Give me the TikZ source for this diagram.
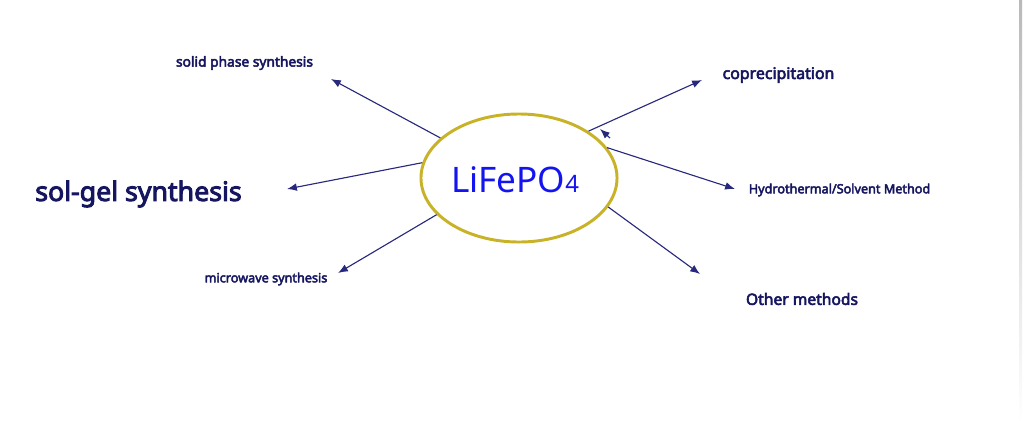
\documentclass[tikz,border=0pt]{standalone}
\usepackage{fontspec}
\setmainfont{Noto Sans}[AutoFakeBold=3.5]
\usetikzlibrary{arrows.meta,shapes.geometric}

\definecolor{navytext}{RGB}{22,22,96}
\definecolor{navyline}{RGB}{40,40,125}
\definecolor{goldring}{RGB}{200,178,40}
\definecolor{formblue}{RGB}{20,20,240}

\tikzset{
  method/.style={text=navytext, inner sep=0pt, font=\bfseries\fontsize{#1}{12}\selectfont},
  arr/.style={-{Latex[length=7pt,width=5.5pt]}, navyline, line width=0.8pt},
  center/.style={ellipse, draw=goldring, line width=2.1pt, minimum width=4.9cm, minimum height=3.2cm, inner sep=0pt}
}

\begin{document}
\begin{tikzpicture}[x=0.025cm,y=-0.025cm]

            % Canvas
            \useasboundingbox (0,0) rectangle (1024,423);
            \shade[top color=gray!55, bottom color=white] (1019,0) rectangle (1022,423);

            % Central ellipse
            \node[center] (ell) at (519,178) {};
            \node[font=\fontsize{25}{30}\selectfont, text=formblue, inner sep=0pt] (lfp) at (515,180)
                {LiFePO{\fontsize{17}{20}\selectfont 4}};

            % Method labels
            \node[method=9.8] (solid) at (244.5,63) {solid phase synthesis};
            \node[method=19] (solgel) at (138.5,194) {sol-gel synthesis};
            \node[method=9] (micro) at (266,279) {microwave synthesis};
            \node[method=11.3] (copre) at (778.5,75) {coprecipitation};
            \node[method=9] (hydro) at (839.5,190) {Hydrothermal/Solvent Method};
            \node[method=11.1] (other) at (802,299) {Other methods};

            % Arrow ends
            \coordinate (solidtip) at (331,79);
            \coordinate (solgeltip) at (287,189);
            \coordinate (microtip) at (338,273);
            \coordinate (copretip) at (702,80);
            \coordinate (hydrotip) at (735,189);
            \coordinate (othertip) at (700,274);
            \coordinate (loosebase) at (610,138);
            \coordinate (loosetip) at (600,129);

            % Arrows
            \draw[arr] (ell.153) -- (solidtip);
            \draw[arr] (ell.171) -- (solgeltip);
            \draw[arr] (ell.204) -- (microtip);
            \draw[arr] (ell.34) -- (copretip);
            \draw[arr] (ell.19) -- (hydrotip);
            \draw[arr] (ell.342) -- (othertip);
            \draw[arr] (loosebase) -- (loosetip);

\end{tikzpicture}
\end{document}
